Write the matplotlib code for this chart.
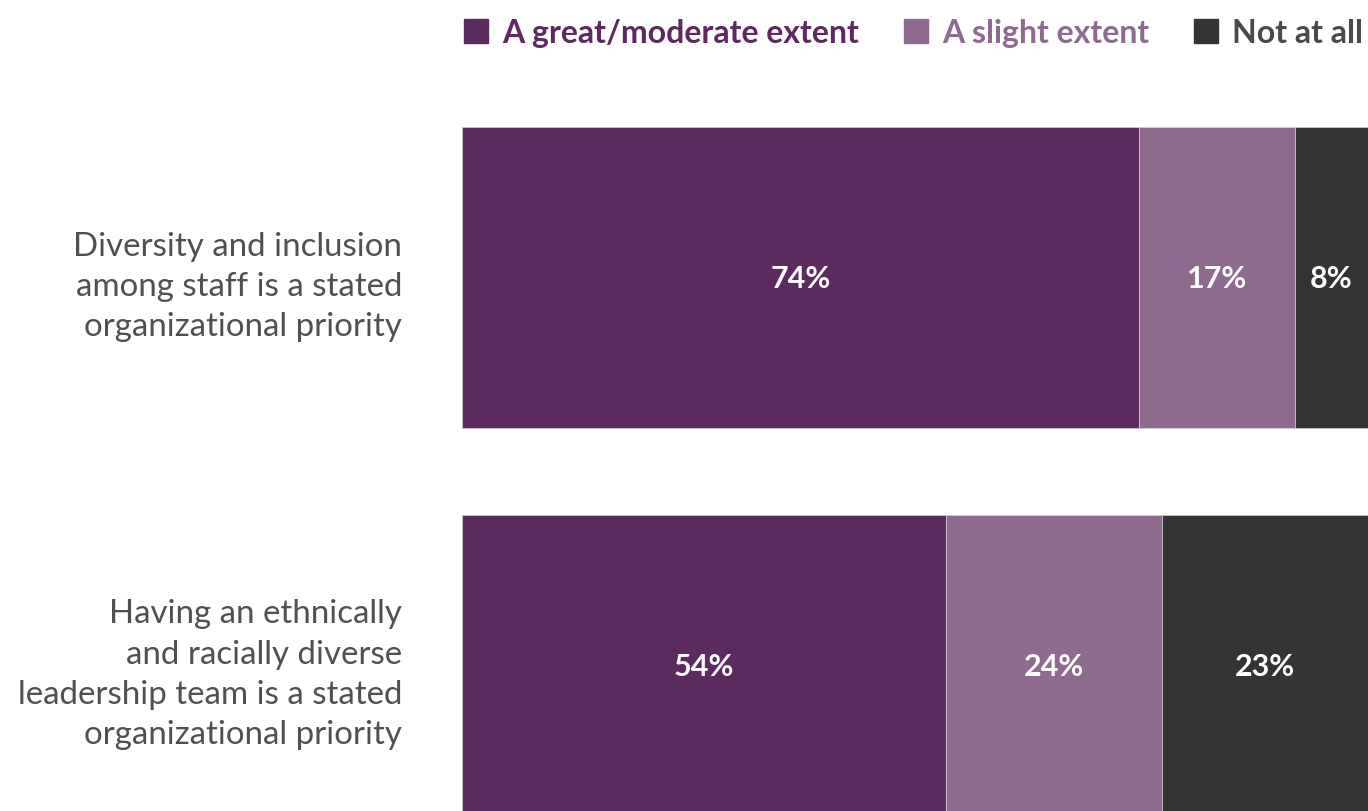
import matplotlib.pyplot as plt
from matplotlib.patches import Patch
import numpy as np

categories = [
    'Diversity and inclusion\namong staff is a stated\norganizational priority',
    'Having an ethnically\nand racially diverse\nleadership team is a stated\norganizational priority',
]
series = ['A great/moderate extent', 'A slight extent', 'Not at all']
great = [74, 54]
slight = [17, 24]
not_at_all = [8, 23]

colors = ['#5c2a5f', '#8e6a8f', '#353335']
legend_text_colors = ['#5c2a5f', '#8e6a8f', '#4a4a48']

values = np.array([great, slight, not_at_all], dtype=float)
totals = values.sum(axis=0)
shares = values / totals * 100

fig = plt.figure(figsize=(13.68, 8.12), dpi=100)
ax = fig.add_axes([462 / 1368, 0, 906 / 1368, 1])

y = np.arange(len(categories))
left = np.zeros(len(categories))
for i in range(len(series)):
    ax.barh(y, shares[i], left=left, height=0.776, color=colors[i],
            edgecolor='#d8d0d8', linewidth=0.5, label=series[i])
    for j in range(len(categories)):
        ax.text(left[j] + shares[i][j] / 2, y[j], f'{int(values[i][j])}%',
                ha='center', va='center', color='white',
                fontsize=22, fontweight='bold', family='Lato')
    left += shares[i]

ax.set_xlim(0, 100)
ax.set_ylim(1.375, -0.718)
ax.set_yticks(y)
ax.set_yticklabels(categories, family='Lato', fontweight='normal',
                   fontsize=23.8, color='#505050', linespacing=1.42)
ax.tick_params(axis='y', length=0, pad=43)
ax.set_xticks([])
for s in ax.spines.values():
    s.set_visible(False)

handles = [Patch(color=c) for c in colors]
leg = fig.legend(handles, series, loc='upper right', ncol=3, frameon=False,
                 bbox_to_anchor=(1.006, 0.992), handlelength=0.75, handleheight=0.75,
                 handletextpad=0.45, columnspacing=1.4, borderaxespad=0.0,
                 prop={'family': 'Lato', 'weight': 'bold', 'size': 23},
                 labelcolor=legend_text_colors)

fig.savefig('out.png', dpi=100)
